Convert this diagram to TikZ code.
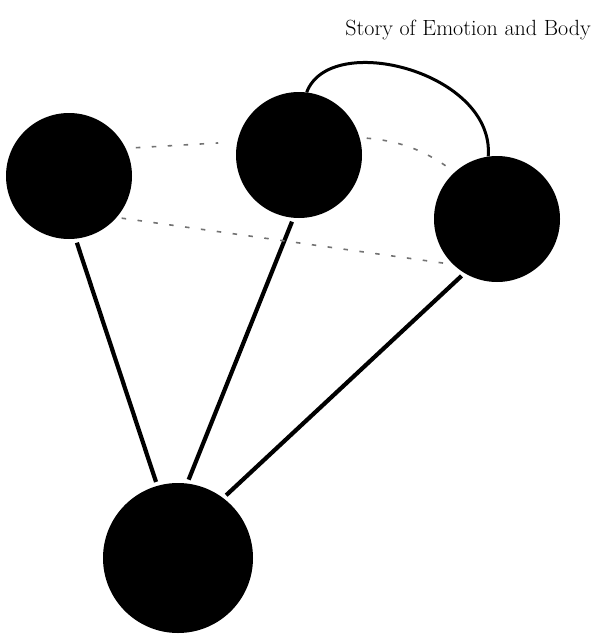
\documentclass[tikz,border=0pt]{standalone}
\usetikzlibrary{positioning}
\begin{document}
\begin{tikzpicture}[x=1pt, y=-1pt]
\tikzset{
  ball/.style={circle, fill=black, inner sep=0pt, minimum size=126pt},
  bigball/.style={ball, minimum size=150pt},
  link/.style={line width=4.2pt, shorten <=4pt, shorten >=4pt},
  hint/.style={draw=black!55, line width=1.6pt, dash pattern=on 4.5pt off 11.5pt},
}
\useasboundingbox (0,0) rectangle (595,634);
% title
\node[anchor=base east, inner sep=0pt, font=\fontsize{22}{26}\selectfont] (title) at (591,36) {Story of Emotion and Body};
% discs
\node[ball] (left) at (69,176) {};
\node[ball] (mid) at (299,155) {};
\node[ball] (right) at (497,219) {};
\node[bigball] (bottom) at (178,558) {};
% solid links down to the big disc
\draw[link] (left.-84) -- (bottom.106);
\draw[link] (mid.-95) -- (bottom.83);
\draw[link] (right.-121) -- (bottom.53);
% dashed links between the upper discs
\draw[hint, shorten <=10pt, shorten >=19pt] (left.26) -- (mid.168);
\draw[hint, shorten <=7pt, shorten >=7pt] (mid.16) to[bend left=15] (right.132);
\draw[hint, shorten <=5pt, shorten >=7pt] (left.-41) -- (right.-134);
% loop over the top
\draw[line width=3pt] (mid.83) .. controls (330,30) and (495,72) .. (right.98);
\end{tikzpicture}
\end{document}
